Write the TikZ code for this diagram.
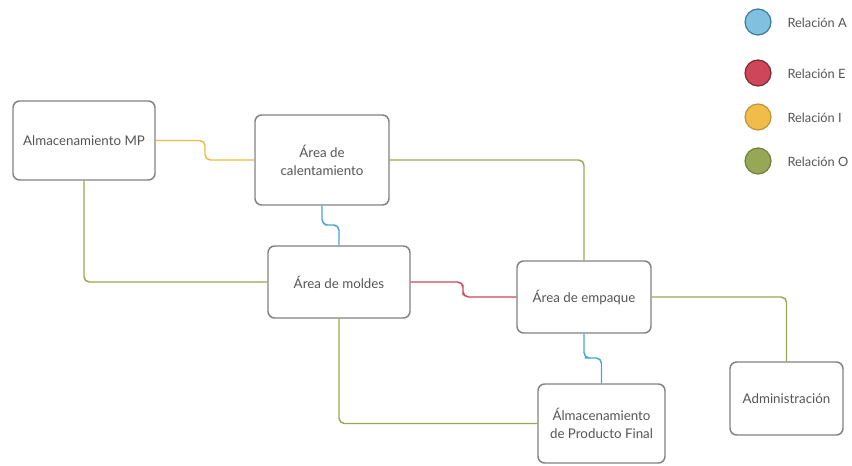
\documentclass[tikz,border=0pt]{standalone}
\usepackage{fontspec}
\setmainfont{Lato}
\definecolor{relA}{RGB}{75,165,210}
\definecolor{relE}{RGB}{205,70,90}
\definecolor{relI}{RGB}{240,185,65}
\definecolor{relO}{RGB}{150,168,85}
\definecolor{boxline}{RGB}{130,130,130}
\definecolor{txt}{RGB}{85,85,85}
\tikzset{every picture/.style={line width=0.75pt}}
\tikzset{
  area/.style={draw=boxline, line width=1.1pt, rounded corners=5pt, fill=white, text=txt, align=center, font=\fontsize{10}{13.5}\selectfont, inner sep=0pt},
  link/.style={line width=1.1pt, rounded corners=4pt},
  dot/.style={circle, minimum size=19.5pt, inner sep=0pt, line width=0.9pt},
  key/.style={anchor=west, text=txt, font=\fontsize{9.6}{11}\selectfont, inner sep=0.75pt}
}

\begin{document}
\begin{tikzpicture}[x=0.75pt,y=0.75pt,yscale=-1,xscale=1]
\useasboundingbox (0,0) rectangle (852,466);

% Areas
\node[area, minimum width=106.5pt, minimum height=59.25pt] (mp) at (84,140.5) {Almacenamiento MP};
\node[area, minimum width=100.5pt, minimum height=67.5pt] (cal) at (322,160) {Área de\\calentamiento};
\node[area, minimum width=106.5pt, minimum height=54pt] (mol) at (339,282) {Área de moldes};
\node[area, minimum width=100.5pt, minimum height=54pt] (emp) at (584,297) {Área de empaque};
\node[area, minimum width=95.25pt, minimum height=59.25pt] (pf) at (601.5,423.5) {Álmacenamiento\\de Producto Final};
\node[area, minimum width=84.75pt, minimum height=54.75pt] (adm) at (786.5,398.5) {Administración};

% Relations
\draw[link, relI] (mp.east) -| (205,150) |- (cal.west);
\draw[link, relO] (cal.east) -| (emp.north);
\draw[link, relA] (cal.south) |- (330,225) -| (mol.north);
\draw[link, relO] (mp.south) |- (mol.west);
\draw[link, relE] (mol.east) -| (463,290) |- (emp.west);
\draw[link, relA] (emp.south) |- (590,358) -| (pf.north);
\draw[link, relO] (mol.south) |- (pf.west);
\draw[link, relO] (emp.east) -| (adm.north);

% Legend
\node[dot, draw=relA!75!black, fill=relA!70!white] (kA) at (758,22) {};
\node[dot, draw=relE!60!black, fill=relE] (kE) at (758,73) {};
\node[dot, draw=relI!80!black, fill=relI!95!white] (kI) at (758,117) {};
\node[dot, draw=relO!75!black, fill=relO] (kO) at (758,161) {};
\node[key] (tA) at (786,23) {Relación A};
\node[key] (tE) at (786,74) {Relación E};
\node[key] (tI) at (786,118) {Relación I};
\node[key] (tO) at (786,162) {Relación O};

\end{tikzpicture}
\end{document}
